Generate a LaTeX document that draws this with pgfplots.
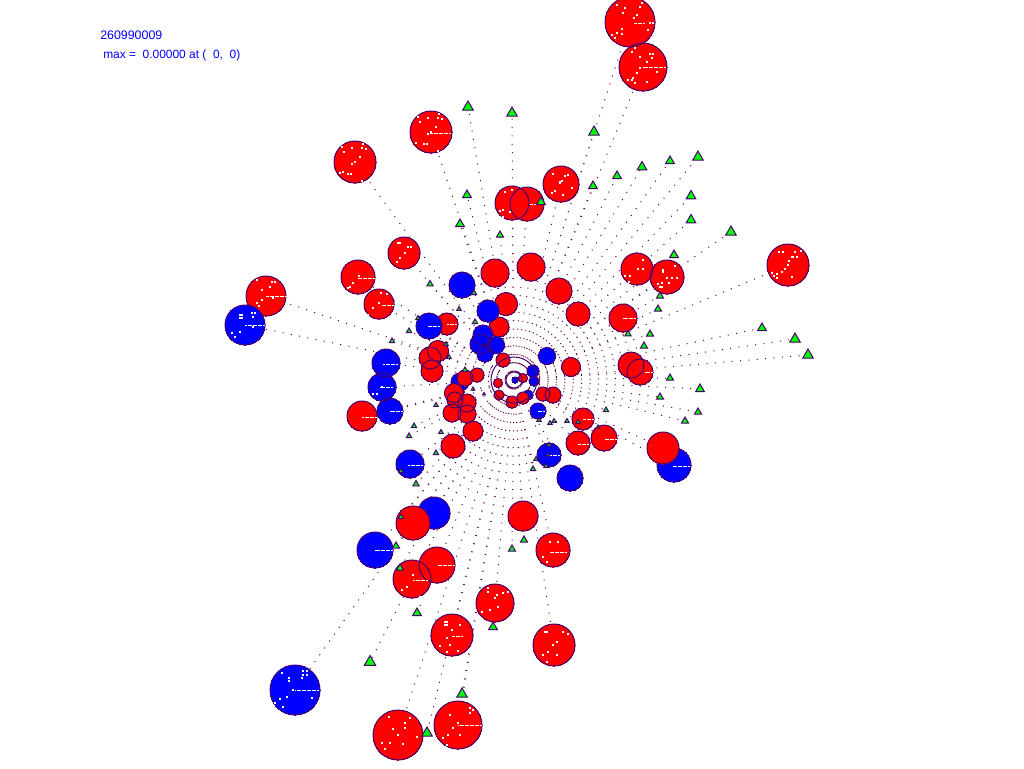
\documentclass[border=0pt]{standalone}
\usepackage{pgfplots}
\usepackage{pgfplotstable}
\usepackage{fontspec}
\setmainfont{Liberation Sans}
\pgfplotsset{compat=1.18}
\definecolor{outl}{RGB}{70,0,110}
\definecolor{dotc}{RGB}{95,0,60}
\definecolor{gfill}{RGB}{0,255,0}
\definecolor{rfill}{RGB}{255,0,0}
\definecolor{bfill}{RGB}{0,0,255}

% circles: x y r (pixels)
\pgfplotstableread{
x y r
674 465 17
434 513 16
533 371 6
534 381 5
528 395 5
460 382 9
}\blueunder
\pgfplotstableread{
x y r
630 22 25
643 67 24
431 132 21
355 162 21
561 184 18
512 203 17
527 204 17
404 253 16
358 277 17
266 296 20
379 304 15
495 273 14
531 267 14
559 291 13
506 304 11.5
578 314 12
637 269 16
667 277 17
788 265 21
623 318 14
499 327 10
447 324 11
438 351 10.5
430 358 11
432 371 11
503 360 7
571 367 9.5
631 365 13
640 372 13
477 375 7
465 378 8
498 383 4.5
523 378 4.5
499 395 5
512 402 6
523 398 6
543 394 7
553 395 8
454 393 9.5
455 400 8
467 403 9
452 413 9
467 414 9
473 431 10
453 446 12
362 416 15
583 419 11
578 443 12
604 438 13
663 448 16
523 516 15
413 523 17
553 550 17
437 565 18
412 579 19
495 603 19
452 635 21
554 645 21
458 725 24
398 735 25
}\reds
\pgfplotstableread{
x y r
245 325 20
462 285 13
488 311 11
429 326 13
483 335 10
480 344 10
496 345 8.5
485 354 8
386 363 14
382 387 14
390 411 13
547 356 8.5
515 380 3
538 411 8
549 455 12
570 478 13
410 464 14
375 550 18
295 690 25
}\blueover
% triangles: x y r
\pgfplotstableread{
x y r
468 107 6
512 113 6
594 132 6
617 176 5
593 186 5
541 202 5
467 195 5
460 224 5
500 235 4
698 157 6
670 161 5
642 167 5.5
691 196 5.5
691 220 5.5
731 232 6
674 255 5
660 296 4
658 309 4
628 334 3.5
650 334 4
644 346 4
762 328 5
795 339 6
808 355 6
670 378 4
700 389 5
660 397 4
698 412 4
685 421 4
606 410 3
598 427 2
578 422 2.5
567 421 2.5
554 421 2.5
550 423 2.5
539 420 2.5
549 445 2.5
548 455 2
536 459 2.5
533 469 3
546 466 2.5
436 405 2.5
414 426 3
441 432 2.5
409 436 3
436 453 3
401 471 2.5
416 484 3.5
473 389 2
484 394 1.5
430 284 3.5
459 309 2.5
409 331 3
392 341 3
418 318 2.5
446 344 2.5
449 357 2.5
474 293 3
475 322 3
465 370 3
401 517 3
396 546 4
400 568 4
417 613 5
493 627 5
512 549 4
524 540 4
370 662 6.5
462 694 6
427 733 6
}\tris
% rays: from the centre to every object
\pgfplotstableread[row sep=\\]{
x y\\
514 380\\ 630 22\\ nan nan\\
514 380\\ 643 67\\ nan nan\\
514 380\\ 431 132\\ nan nan\\
514 380\\ 355 162\\ nan nan\\
514 380\\ 561 184\\ nan nan\\
514 380\\ 512 203\\ nan nan\\
514 380\\ 527 204\\ nan nan\\
514 380\\ 404 253\\ nan nan\\
514 380\\ 358 277\\ nan nan\\
514 380\\ 266 296\\ nan nan\\
514 380\\ 379 304\\ nan nan\\
514 380\\ 495 273\\ nan nan\\
514 380\\ 531 267\\ nan nan\\
514 380\\ 559 291\\ nan nan\\
514 380\\ 506 304\\ nan nan\\
514 380\\ 578 314\\ nan nan\\
514 380\\ 637 269\\ nan nan\\
514 380\\ 667 277\\ nan nan\\
514 380\\ 788 265\\ nan nan\\
514 380\\ 623 318\\ nan nan\\
514 380\\ 571 367\\ nan nan\\
514 380\\ 640 372\\ nan nan\\
514 380\\ 453 446\\ nan nan\\
514 380\\ 362 416\\ nan nan\\
514 380\\ 583 419\\ nan nan\\
514 380\\ 578 443\\ nan nan\\
514 380\\ 604 438\\ nan nan\\
514 380\\ 663 448\\ nan nan\\
514 380\\ 523 516\\ nan nan\\
514 380\\ 413 523\\ nan nan\\
514 380\\ 553 550\\ nan nan\\
514 380\\ 437 565\\ nan nan\\
514 380\\ 412 579\\ nan nan\\
514 380\\ 495 603\\ nan nan\\
514 380\\ 452 635\\ nan nan\\
514 380\\ 554 645\\ nan nan\\
514 380\\ 458 725\\ nan nan\\
514 380\\ 398 735\\ nan nan\\
514 380\\ 245 325\\ nan nan\\
514 380\\ 462 285\\ nan nan\\
514 380\\ 429 326\\ nan nan\\
514 380\\ 386 363\\ nan nan\\
514 380\\ 382 387\\ nan nan\\
514 380\\ 390 411\\ nan nan\\
514 380\\ 549 455\\ nan nan\\
514 380\\ 570 478\\ nan nan\\
514 380\\ 410 464\\ nan nan\\
514 380\\ 375 550\\ nan nan\\
514 380\\ 295 690\\ nan nan\\
514 380\\ 674 465\\ nan nan\\
514 380\\ 434 513\\ nan nan\\
514 380\\ 468 107\\ nan nan\\
514 380\\ 512 113\\ nan nan\\
514 380\\ 594 132\\ nan nan\\
514 380\\ 617 176\\ nan nan\\
514 380\\ 593 186\\ nan nan\\
514 380\\ 467 195\\ nan nan\\
514 380\\ 460 224\\ nan nan\\
514 380\\ 500 235\\ nan nan\\
514 380\\ 698 157\\ nan nan\\
514 380\\ 670 161\\ nan nan\\
514 380\\ 642 167\\ nan nan\\
514 380\\ 691 196\\ nan nan\\
514 380\\ 691 220\\ nan nan\\
514 380\\ 731 232\\ nan nan\\
514 380\\ 674 255\\ nan nan\\
514 380\\ 660 296\\ nan nan\\
514 380\\ 658 309\\ nan nan\\
514 380\\ 628 334\\ nan nan\\
514 380\\ 650 334\\ nan nan\\
514 380\\ 644 346\\ nan nan\\
514 380\\ 762 328\\ nan nan\\
514 380\\ 795 339\\ nan nan\\
514 380\\ 808 355\\ nan nan\\
514 380\\ 670 378\\ nan nan\\
514 380\\ 700 389\\ nan nan\\
514 380\\ 660 397\\ nan nan\\
514 380\\ 698 412\\ nan nan\\
514 380\\ 685 421\\ nan nan\\
514 380\\ 606 410\\ nan nan\\
514 380\\ 533 469\\ nan nan\\
514 380\\ 436 405\\ nan nan\\
514 380\\ 414 426\\ nan nan\\
514 380\\ 409 436\\ nan nan\\
514 380\\ 436 453\\ nan nan\\
514 380\\ 401 471\\ nan nan\\
514 380\\ 416 484\\ nan nan\\
514 380\\ 430 284\\ nan nan\\
514 380\\ 409 331\\ nan nan\\
514 380\\ 392 341\\ nan nan\\
514 380\\ 474 293\\ nan nan\\
514 380\\ 401 517\\ nan nan\\
514 380\\ 396 546\\ nan nan\\
514 380\\ 400 568\\ nan nan\\
514 380\\ 417 613\\ nan nan\\
514 380\\ 493 627\\ nan nan\\
514 380\\ 512 549\\ nan nan\\
514 380\\ 524 540\\ nan nan\\
514 380\\ 370 662\\ nan nan\\
514 380\\ 462 694\\ nan nan\\
514 380\\ 427 733\\ nan nan\\
}\rays
% white dashes inside the discs: centre x, y, half length
\pgfplotstableread{
x y r
366.5 278 8.5
388 305 6
390.5 364 7.5
434 326 6
452 324 5
386.5 387 6.5
396.5 411 6.5
369.5 417 7.5
415.5 465 7.5
554 455 6
583.5 444 5.5
611 439 6
681.5 466 8.5
541.5 411 3.5
588.5 419 5.5
649 372 4
629.5 318 6.5
446.5 565 8.5
420.5 580 7.5
558.5 552 8.5
535.5 204 5.5
276.5 296 10.5
255 325 10
654.5 67 11.5
639.5 23 5.5
440.5 133 10.5
307 690 12
470 725 12
384 550 9
457.5 636 5.5
}\whitedash
% single white pixels inside the discs
\pgfplotstableread{
x y
553 174
565 176
568 175
560 182
562 181
560 183
572 188
563 195
555 191
552 193
505 192
512 190
503 210
500 211
503 217
510 212
779 252
783 252
795 252
801 251
793 257
797 257
792 257
789 261
788 265
785 269
782 272
777 274
772 273
774 276
777 278
792 277
663 270
663 272
675 266
667 278
672 278
677 278
662 283
669 283
658 284
662 287
660 287
638 269
643 269
630 276
625 276
629 282
643 260
652 260
488 588
488 592
497 595
495 598
490 610
482 612
498 607
503 593
508 592
413 575
407 587
402 590
420 597
423 597
550 542
558 542
543 557
547 562
382 387
373 394
377 394
342 147
344 152
352 148
363 144
366 149
362 148
360 157
355 162
352 164
340 173
348 174
351 174
362 181
343 172
257 280
272 282
275 282
270 287
262 290
262 300
259 306
257 303
273 298
240 315
242 315
240 318
242 318
252 313
255 313
253 317
235 337
240 332
232 333
253 327
398 243
400 243
408 247
411 247
405 253
400 258
397 262
359 276
353 283
350 287
348 288
381 293
387 294
379 303
373 308
368 315
282 673
289 678
289 681
303 671
307 671
303 675
307 675
293 690
287 697
280 699
275 703
283 707
312 698
302 678
445 622
447 622
445 625
447 625
460 625
452 630
447 638
440 646
450 645
447 652
458 651
545 632
547 632
563 632
568 634
557 642
553 645
548 652
543 655
547 662
557 655
389 717
410 718
405 723
405 728
398 735
393 729
382 743
390 743
385 749
403 744
417 737
450 715
470 708
473 710
470 713
458 723
453 728
448 735
443 738
447 745
460 735
623 13
637 15
634 18
648 30
650 23
653 23
612 35
617 33
622 34
615 38
622 29
617 5
625 8
640 7
642 3
632 52
635 48
650 54
653 54
652 58
647 62
640 57
640 68
637 73
633 78
628 80
632 80
635 83
657 72
647 82
418 117
420 122
428 118
439 114
442 119
438 118
436 127
431 132
428 134
416 143
424 144
427 144
438 151
}\specks

\pgfplotsset{
  disc/.style={only marks, mark=*, scatter, point meta=0,
    scatter/use mapped color={draw=#1, fill=#1},
    visualization depends on={0.75*\thisrow{r} \as \pr},
    scatter/@pre marker code/.append style={/tikz/mark size=\pr},
    mark options={line width=0pt}},
  ring/.style={only marks, mark=o, scatter, point meta=0,
    scatter/use mapped color={draw=outl},
    visualization depends on={0.75*\thisrow{r} \as \pr},
    scatter/@pre marker code/.append style={/tikz/mark size=\pr},
    mark options={line width=0.75pt}},
}

\begin{document}
\begin{tikzpicture}
\useasboundingbox (0,0) rectangle (768pt,576pt);
\begin{axis}[
  scale only axis, width=768pt, height=576pt,
  xmin=0, xmax=1024, ymin=0, ymax=768, y dir=reverse,
  axis lines=none, unbounded coords=jump,
  clip=true, clip mode=global,
]
\addplot[dotc, line width=0.75pt, dash pattern=on 0.75pt off 5.55pt, no marks] table {\rays};
\addplot[disc=bfill] table {\blueunder};
\addplot[ring] table {\blueunder};
\addplot[disc=rfill] table {\reds};
\addplot[ring] table {\reds};
\addplot[disc=bfill] table {\blueover};
\addplot[ring] table {\blueover};
\addplot[only marks, mark=-, scatter, point meta=0,
  scatter/use mapped color={draw=white},
  visualization depends on={0.75*\thisrow{r} \as \pr},
  scatter/@pre marker code/.append style={/tikz/mark size=\pr},
  mark options={line width=0.75pt, dash pattern=on 1.5pt off 0.4pt}] table {\whitedash};
\addplot[only marks, mark=square*, mark size=0.4pt, white, mark options={draw=none, fill=white}] table {\specks};
\addplot[ring] table {
x y r
514 380 8
514 380 23
};
\addplot[only marks, mark=triangle*, scatter, point meta=0,
  scatter/use mapped color={draw=outl, fill=gfill},
  visualization depends on={0.75*\thisrow{r} \as \pr},
  scatter/@pre marker code/.append style={/tikz/mark size=\pr},
  mark options={line width=0.75pt}] table {\tris};
\node[anchor=base west, text=blue, font=\fontsize{9.3pt}{10pt}\selectfont, inner sep=0pt] at (axis cs:100,39) {260990009};
\node[anchor=base west, text=blue, font=\fontsize{8.95pt}{10pt}\selectfont, inner sep=0pt] at (axis cs:103,58) {max =\ \ 0.00000 at (\ \ 0,\ \ 0)};
\end{axis}
\end{tikzpicture}
\end{document}
